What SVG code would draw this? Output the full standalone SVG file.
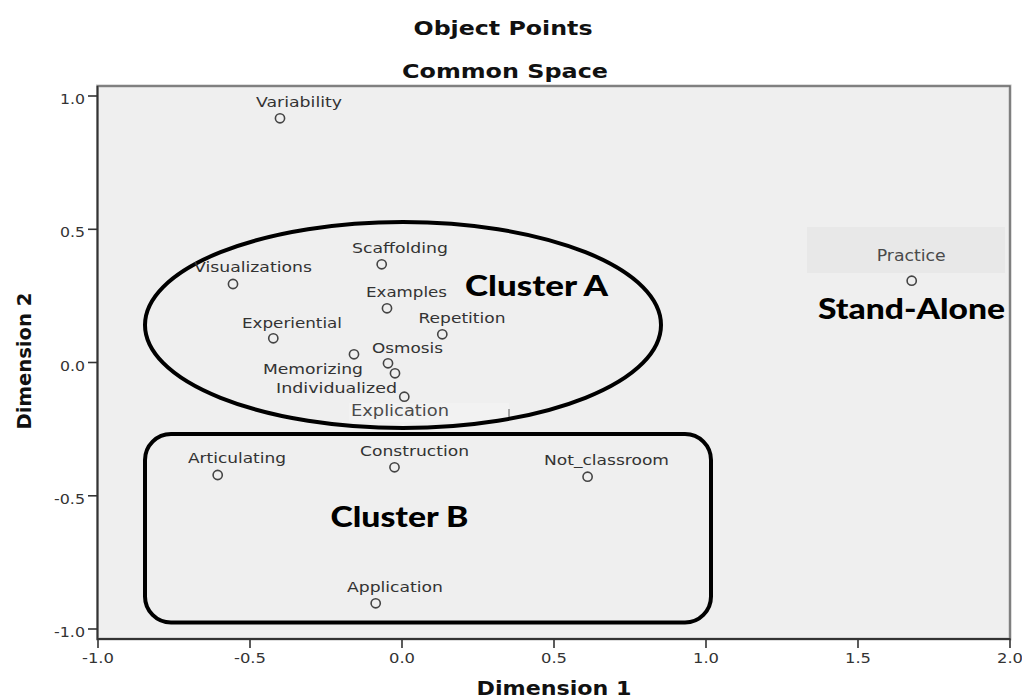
<svg xmlns="http://www.w3.org/2000/svg" width="1022" height="700" viewBox="0 0 1022 700">
  <style>
    .ttl { font-family: "DejaVu Sans", "Liberation Sans", sans-serif; font-weight: bold; font-size: 20px; fill: #111; text-anchor: middle; }
    .axt { font-family: "DejaVu Sans", "Liberation Sans", sans-serif; font-weight: bold; font-size: 20px; fill: #111; }
    .tk { font-family: "DejaVu Sans", "Liberation Sans", sans-serif; font-size: 14px; fill: #333; }
    .tky { text-anchor: end; }
    .tkx { text-anchor: middle; }
    .tick { stroke: #333; stroke-width: 1.6; }
    .lbl { font-family: "DejaVu Sans", "Liberation Sans", sans-serif; font-size: 14px; fill: #333; text-anchor: middle; }
    .anno { font-family: "DejaVu Sans", "Liberation Sans", sans-serif; font-size: 16.5px; fill: #4a4a4a; }
    .pt { fill: none; stroke: #444; stroke-width: 1.6; }
    .clus { font-family: Lato, "DejaVu Sans", sans-serif; font-weight: 900; font-size: 28px; fill: #000; }
    .outline { fill: none; stroke: #000; stroke-width: 4; }
  </style>

  <rect width="1022" height="700" fill="#ffffff"/>

  <!-- titles -->
  <g id="titles">
    <text class="ttl" x="503" y="35" textLength="179" lengthAdjust="spacingAndGlyphs">Object Points</text>
    <text class="ttl" x="505" y="78" textLength="206" lengthAdjust="spacingAndGlyphs">Common Space</text>
  </g>

  <!-- plot area -->
  <g id="plot-frame">
    <rect x="97.5" y="86" width="912.5" height="553" fill="#efefef" stroke="#bdbdbd" stroke-width="3"/>
    <rect x="97.5" y="86" width="912.5" height="553" fill="none" stroke="#666" stroke-width="1.4"/>
    <line x1="97.5" y1="86" x2="97.5" y2="640" stroke="#333" stroke-width="1.8"/>
    <line x1="97" y1="639" x2="1010.5" y2="639" stroke="#333" stroke-width="1.8"/>
  </g>

  <!-- y axis -->
  <g id="y-axis">
    <line class="tick" x1="88" y1="96" x2="98" y2="96"/>
    <line class="tick" x1="88" y1="229.3" x2="98" y2="229.3"/>
    <line class="tick" x1="88" y1="362.5" x2="98" y2="362.5"/>
    <line class="tick" x1="88" y1="495.8" x2="98" y2="495.8"/>
    <line class="tick" x1="88" y1="629" x2="98" y2="629"/>
    <text class="tk tky" x="85" y="104" textLength="25" lengthAdjust="spacingAndGlyphs">1.0</text>
    <text class="tk tky" x="85" y="237.3" textLength="25" lengthAdjust="spacingAndGlyphs">0.5</text>
    <text class="tk tky" x="85" y="370.5" textLength="25" lengthAdjust="spacingAndGlyphs">0.0</text>
    <text class="tk tky" x="85" y="503.8" textLength="31" lengthAdjust="spacingAndGlyphs">-0.5</text>
    <text class="tk tky" x="85" y="637" textLength="31" lengthAdjust="spacingAndGlyphs">-1.0</text>
    <text class="axt" transform="translate(31 361) rotate(-90)" text-anchor="middle" textLength="137" lengthAdjust="spacingAndGlyphs">Dimension 2</text>
  </g>

  <!-- x axis -->
  <g id="x-axis">
    <line class="tick" x1="98" y1="639" x2="98" y2="648"/>
    <line class="tick" x1="250" y1="639" x2="250" y2="648"/>
    <line class="tick" x1="402" y1="639" x2="402" y2="648"/>
    <line class="tick" x1="554" y1="639" x2="554" y2="648"/>
    <line class="tick" x1="706" y1="639" x2="706" y2="648"/>
    <line class="tick" x1="858" y1="639" x2="858" y2="648"/>
    <line class="tick" x1="1010" y1="639" x2="1010" y2="648"/>
    <text class="tk tkx" x="98" y="663" textLength="32" lengthAdjust="spacingAndGlyphs">-1.0</text>
    <text class="tk tkx" x="250" y="663" textLength="32" lengthAdjust="spacingAndGlyphs">-0.5</text>
    <text class="tk tkx" x="402" y="663" textLength="26" lengthAdjust="spacingAndGlyphs">0.0</text>
    <text class="tk tkx" x="554" y="663" textLength="26" lengthAdjust="spacingAndGlyphs">0.5</text>
    <text class="tk tkx" x="706" y="663" textLength="26" lengthAdjust="spacingAndGlyphs">1.0</text>
    <text class="tk tkx" x="858" y="663" textLength="26" lengthAdjust="spacingAndGlyphs">1.5</text>
    <text class="tk tkx" x="1010" y="663" textLength="26" lengthAdjust="spacingAndGlyphs">2.0</text>
    <text class="axt" x="554" y="695" text-anchor="middle" textLength="155" lengthAdjust="spacingAndGlyphs">Dimension 1</text>
  </g>

  <!-- label backdrops -->
  <g id="backdrops">
    <rect x="807" y="227" width="198" height="46" fill="#e8e8e8"/>
    <rect x="349" y="403" width="160" height="19" fill="#f2f2f2"/>
    <line x1="509" y1="409" x2="509" y2="418" stroke="#555" stroke-width="1"/>
  </g>

  <!-- cluster outlines -->
  <g id="connectors">
    <ellipse class="outline" cx="403" cy="325" rx="258" ry="103"/>
    <rect class="outline" x="145" y="434" width="566" height="188.5" rx="26" ry="26"/>
  </g>

  <!-- object points -->
  <g id="node-variability">
    <circle class="pt" cx="280" cy="118.3" r="4.6"/>
    <text class="lbl" x="299" y="107" textLength="86" lengthAdjust="spacingAndGlyphs">Variability</text>
  </g>
  <g id="node-visualizations">
    <circle class="pt" cx="233" cy="284" r="4.6"/>
    <text class="lbl" x="253" y="272" textLength="118" lengthAdjust="spacingAndGlyphs">Visualizations</text>
  </g>
  <g id="node-scaffolding">
    <circle class="pt" cx="381.7" cy="264.3" r="4.6"/>
    <text class="lbl" x="400" y="253" textLength="96" lengthAdjust="spacingAndGlyphs">Scaffolding</text>
  </g>
  <g id="node-examples">
    <circle class="pt" cx="387" cy="308.3" r="4.6"/>
    <text class="lbl" x="406.5" y="296.7" textLength="81" lengthAdjust="spacingAndGlyphs">Examples</text>
  </g>
  <g id="node-repetition">
    <circle class="pt" cx="442.3" cy="334.3" r="4.6"/>
    <text class="lbl" x="462" y="323" textLength="87" lengthAdjust="spacingAndGlyphs">Repetition</text>
  </g>
  <g id="node-experiential">
    <circle class="pt" cx="273.3" cy="338.3" r="4.6"/>
    <text class="lbl" x="292" y="328" textLength="100" lengthAdjust="spacingAndGlyphs">Experiential</text>
  </g>
  <g id="node-osmosis">
    <circle class="pt" cx="388" cy="363.3" r="4.6"/>
    <text class="lbl" x="407.5" y="352.7" textLength="71" lengthAdjust="spacingAndGlyphs">Osmosis</text>
  </g>
  <g id="node-memorizing">
    <circle class="pt" cx="354" cy="354.3" r="4.6"/>
    <text class="lbl" x="313" y="374" textLength="100" lengthAdjust="spacingAndGlyphs">Memorizing</text>
  </g>
  <g id="node-individualized">
    <circle class="pt" cx="404.3" cy="396.7" r="4.6"/>
    <text class="lbl" x="336.5" y="393" textLength="121" lengthAdjust="spacingAndGlyphs">Individualized</text>
  </g>
  <g id="node-explication">
    <circle class="pt" cx="395" cy="373.3" r="4.6"/>
    <text class="anno" x="351" y="415.7" textLength="98" lengthAdjust="spacingAndGlyphs">Explication</text>
  </g>
  <g id="node-practice">
    <circle class="pt" cx="911.7" cy="280.7" r="4.6"/>
    <text class="anno" x="876.7" y="260.7" textLength="69" lengthAdjust="spacingAndGlyphs">Practice</text>
  </g>
  <g id="node-articulating">
    <circle class="pt" cx="217.7" cy="475" r="4.6"/>
    <text class="lbl" x="237" y="463" textLength="98" lengthAdjust="spacingAndGlyphs">Articulating</text>
  </g>
  <g id="node-construction">
    <circle class="pt" cx="394.5" cy="467.3" r="4.6"/>
    <text class="lbl" x="414.5" y="456" textLength="109" lengthAdjust="spacingAndGlyphs">Construction</text>
  </g>
  <g id="node-not-classroom">
    <circle class="pt" cx="587.6" cy="476.7" r="4.6"/>
    <text class="lbl" x="606.5" y="465" textLength="125" lengthAdjust="spacingAndGlyphs">Not_classroom</text>
  </g>
  <g id="node-application">
    <circle class="pt" cx="375.7" cy="603.3" r="4.6"/>
    <text class="lbl" x="395" y="592" textLength="96" lengthAdjust="spacingAndGlyphs">Application</text>
  </g>

  <!-- cluster captions -->
  <g id="cluster-captions">
    <text class="clus" x="465" y="296" textLength="143" lengthAdjust="spacingAndGlyphs">Cluster A</text>
    <text class="clus" x="330.5" y="527" textLength="138" lengthAdjust="spacingAndGlyphs">Cluster B</text>
    <text class="clus" x="818" y="318.5" textLength="187" lengthAdjust="spacingAndGlyphs">Stand-Alone</text>
  </g>
</svg>
